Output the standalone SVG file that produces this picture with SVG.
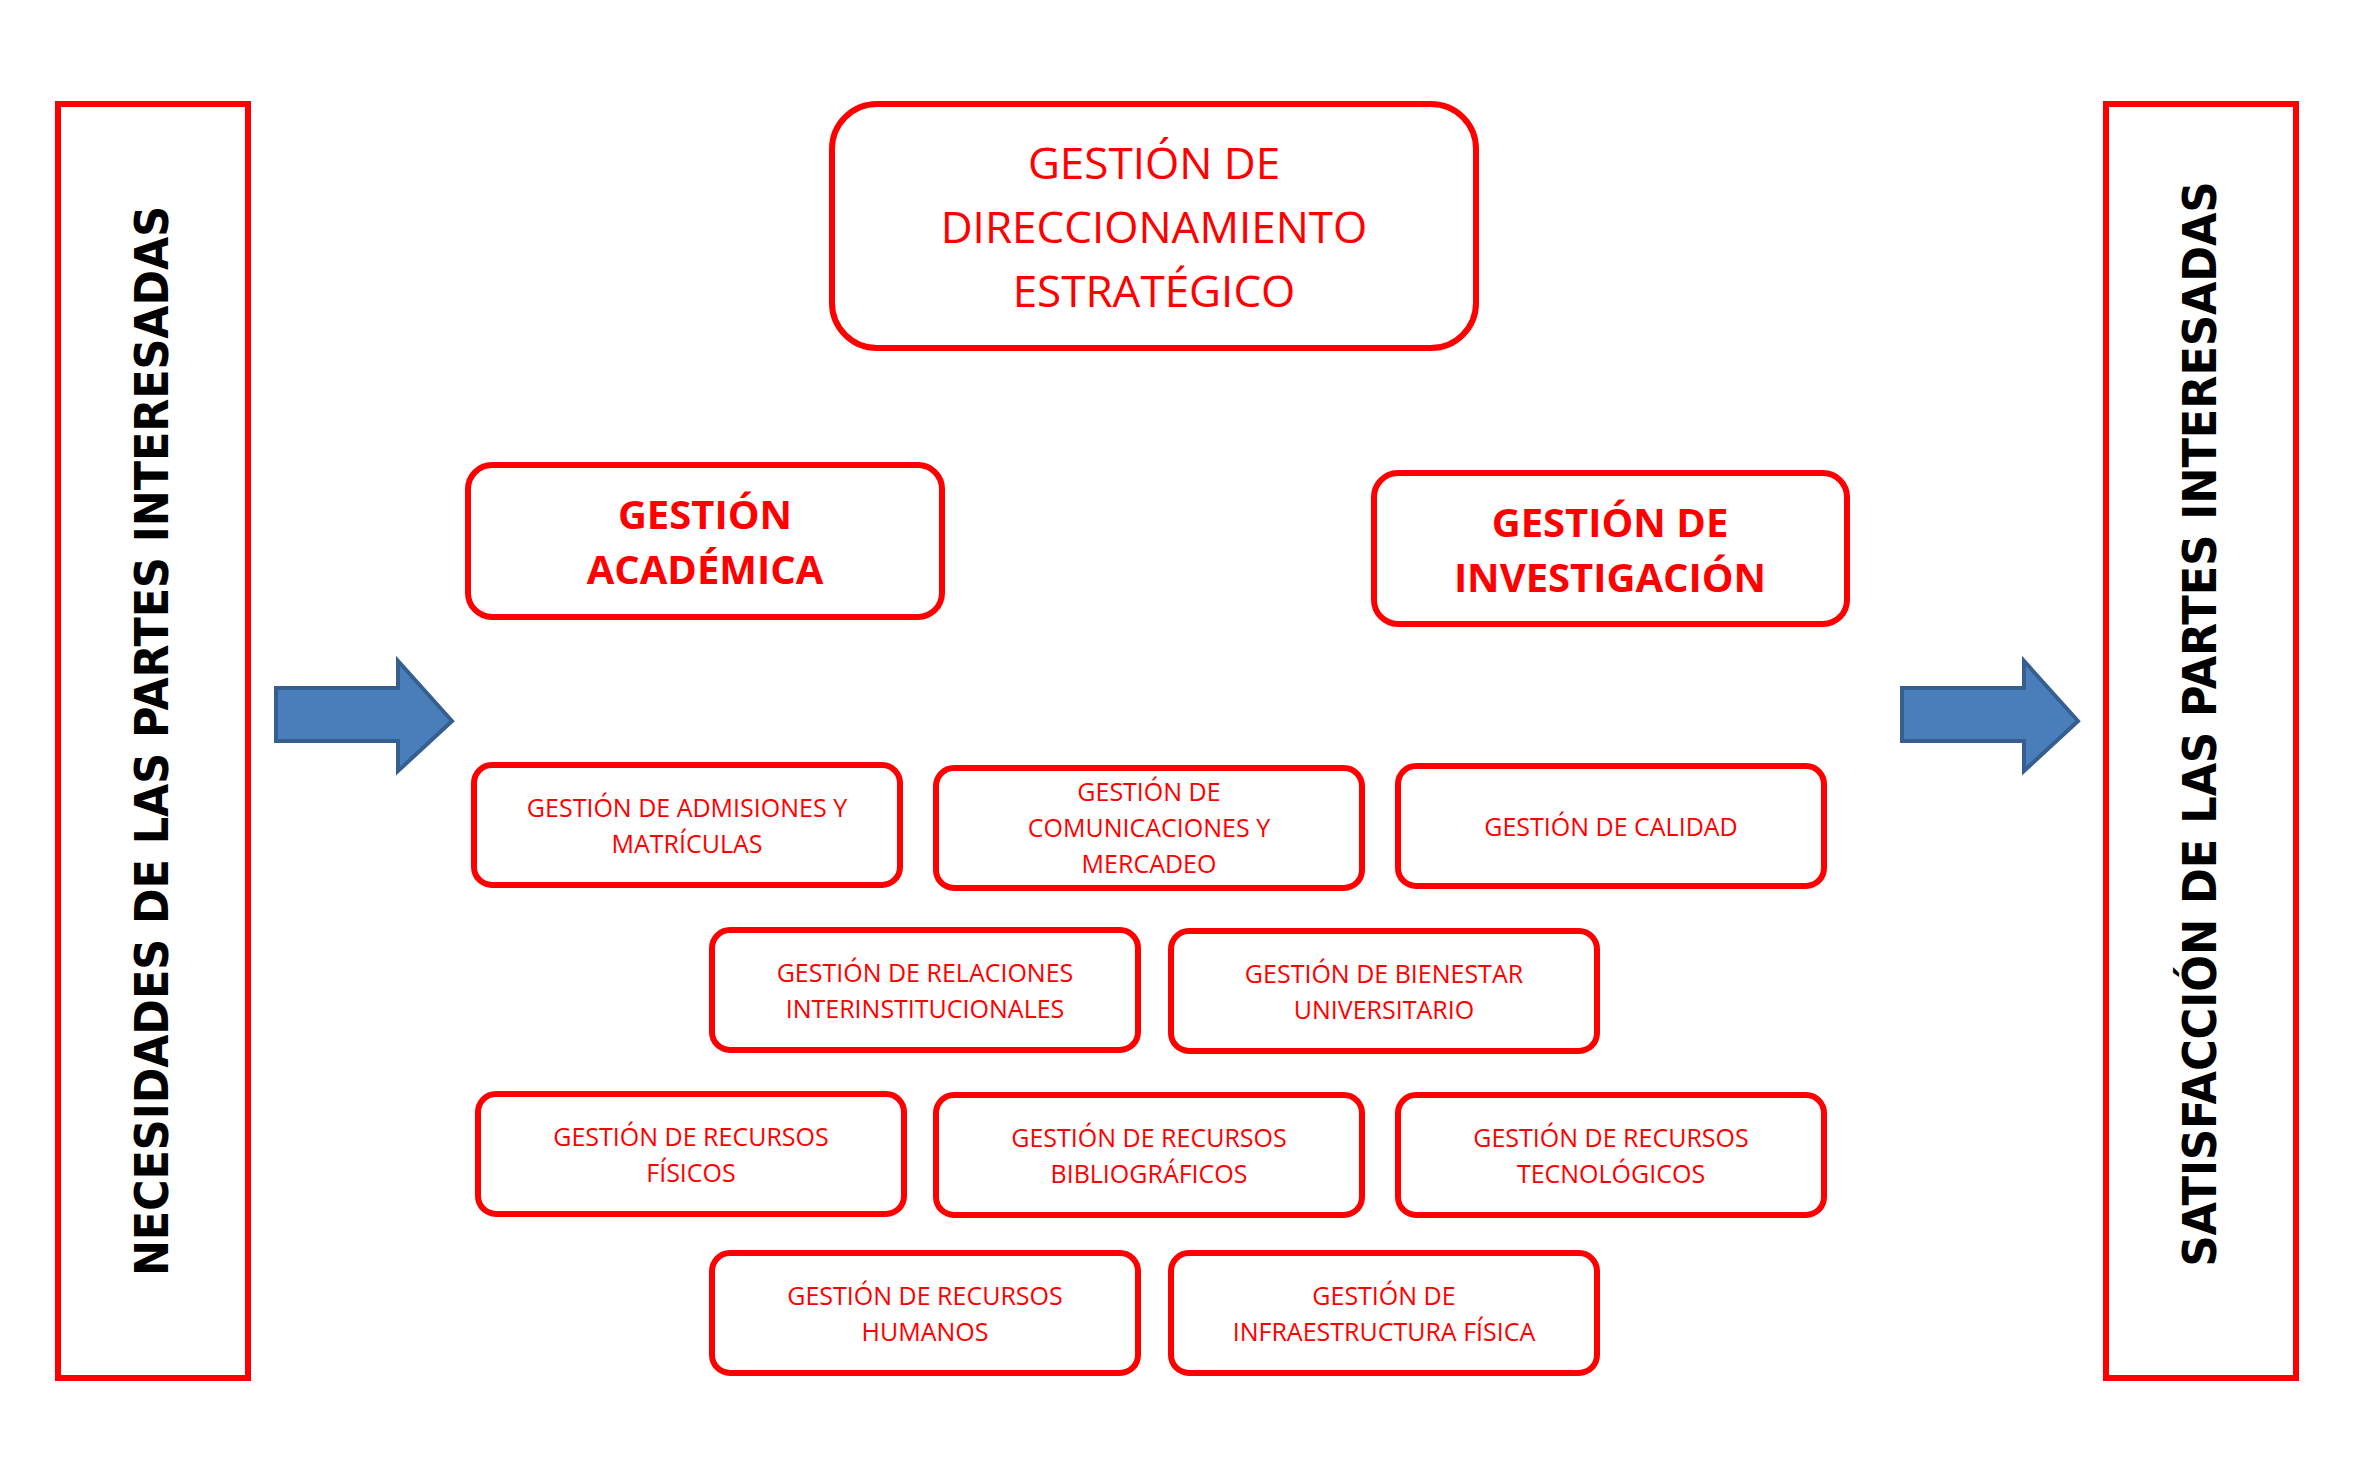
<svg xmlns="http://www.w3.org/2000/svg" width="2354" height="1470" viewBox="0 0 2354 1470">
<style>
.b{fill:#fff;stroke:#ff0000;stroke-width:6}
.t{fill:#ff0000;font-family:"Open Sans","Liberation Sans",sans-serif;text-anchor:middle;dominant-baseline:central}
.s{font-size:25px}
.v{fill:#000;font-family:"DejaVu Sans",sans-serif;font-weight:bold;font-size:46px;text-anchor:middle;dominant-baseline:central}
.a{fill:#4a7ebb;stroke:#355f91;stroke-width:4}
</style>
<rect width="2354" height="1470" fill="#fff"/>
<g id="necesidades"><rect x="58" y="104" width="190" height="1274" fill="#fff" stroke="#ff0000" stroke-width="6"/>
<text class="v" transform="translate(152 741) rotate(-90)" textLength="1070" lengthAdjust="spacingAndGlyphs">NECESIDADES DE LAS PARTES INTERESADAS</text></g>
<g id="satisfaccion"><rect x="2106" y="104" width="190" height="1274" fill="#fff" stroke="#ff0000" stroke-width="6"/>
<text class="v" transform="translate(2200 724) rotate(-90)" textLength="1085" lengthAdjust="spacingAndGlyphs">SATISFACCIÓN DE LAS PARTES INTERESADAS</text></g>
<g id="arrows">
<polygon class="a" points="276,688 398,688 398,661 452,721 398,771 398,741 276,741"/>
<polygon class="a" points="1902,688 2024,688 2024,661 2078,721 2024,771 2024,741 1902,741"/>
</g>
<g id="direccionamiento"><rect class="b" x="832" y="104" width="644" height="244" rx="45"/>
<text class="t" font-size="44"><tspan x="1154" y="162">GESTIÓN DE</tspan><tspan x="1154" y="226">DIRECCIONAMIENTO</tspan><tspan x="1154" y="290">ESTRATÉGICO</tspan></text></g>
<g id="academica"><rect class="b" x="468" y="465" width="474" height="152" rx="24"/>
<text class="t" font-size="40" font-weight="bold"><tspan x="705" y="513">GESTIÓN</tspan><tspan x="705" y="568">ACADÉMICA</tspan></text></g>
<g id="investigacion"><rect class="b" x="1374" y="473" width="473" height="151" rx="24"/>
<text class="t" font-size="40" font-weight="bold"><tspan x="1610" y="521">GESTIÓN DE</tspan><tspan x="1610" y="576">INVESTIGACIÓN</tspan></text></g>
<g id="admisiones"><rect class="b" x="474" y="765" width="426" height="120" rx="18"/>
<text class="t s"><tspan x="687" y="807">GESTIÓN DE ADMISIONES Y</tspan><tspan x="687" y="843">MATRÍCULAS</tspan></text></g>
<g id="comunicaciones"><rect class="b" x="936" y="768" width="426" height="120" rx="18"/>
<text class="t s"><tspan x="1149" y="791">GESTIÓN DE</tspan><tspan x="1149" y="827">COMUNICACIONES Y</tspan><tspan x="1149" y="863">MERCADEO</tspan></text></g>
<g id="calidad"><rect class="b" x="1398" y="766" width="426" height="120" rx="18"/>
<text class="t s"><tspan x="1611" y="826">GESTIÓN DE CALIDAD</tspan></text></g>
<g id="relaciones"><rect class="b" x="712" y="930" width="426" height="120" rx="18"/>
<text class="t s"><tspan x="925" y="972">GESTIÓN DE RELACIONES</tspan><tspan x="925" y="1008">INTERINSTITUCIONALES</tspan></text></g>
<g id="bienestar"><rect class="b" x="1171" y="931" width="426" height="120" rx="18"/>
<text class="t s"><tspan x="1384" y="973">GESTIÓN DE BIENESTAR</tspan><tspan x="1384" y="1009">UNIVERSITARIO</tspan></text></g>
<g id="fisicos"><rect class="b" x="478" y="1094" width="426" height="120" rx="18"/>
<text class="t s"><tspan x="691" y="1136">GESTIÓN DE RECURSOS</tspan><tspan x="691" y="1172">FÍSICOS</tspan></text></g>
<g id="bibliograficos"><rect class="b" x="936" y="1095" width="426" height="120" rx="18"/>
<text class="t s"><tspan x="1149" y="1137">GESTIÓN DE RECURSOS</tspan><tspan x="1149" y="1173">BIBLIOGRÁFICOS</tspan></text></g>
<g id="tecnologicos"><rect class="b" x="1398" y="1095" width="426" height="120" rx="18"/>
<text class="t s"><tspan x="1611" y="1137">GESTIÓN DE RECURSOS</tspan><tspan x="1611" y="1173">TECNOLÓGICOS</tspan></text></g>
<g id="humanos"><rect class="b" x="712" y="1253" width="426" height="120" rx="18"/>
<text class="t s"><tspan x="925" y="1295">GESTIÓN DE RECURSOS</tspan><tspan x="925" y="1331">HUMANOS</tspan></text></g>
<g id="infraestructura"><rect class="b" x="1171" y="1253" width="426" height="120" rx="18"/>
<text class="t s"><tspan x="1384" y="1295">GESTIÓN DE</tspan><tspan x="1384" y="1331">INFRAESTRUCTURA FÍSICA</tspan></text></g>
<g id="connectors"/>
</svg>
